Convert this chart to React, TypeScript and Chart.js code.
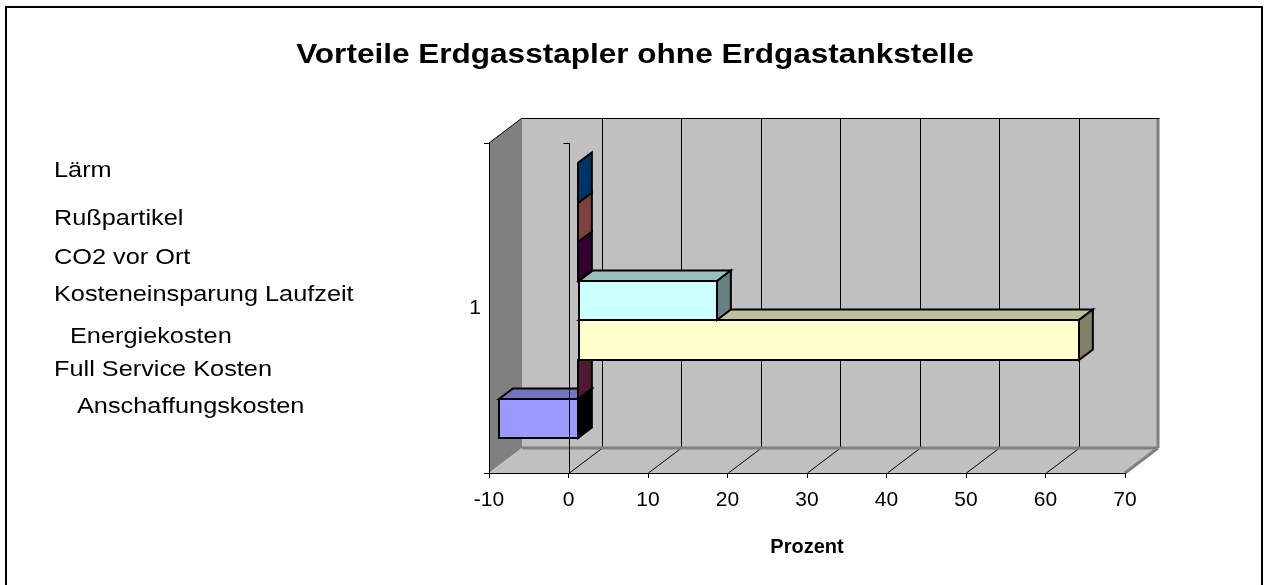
import React, { useEffect, useRef } from "react";
import { Chart, registerables } from "chart.js";

Chart.register(...registerables);

// ---------- data ----------
const categories = ["1"];
const seriesNames = [
  "Lärm",
  "Rußpartikel",
  "CO2 vor Ort",
  "Kosteneinsparung Laufzeit",
  "Energiekosten",
  "Full Service Kosten",
  "Anschaffungskosten",
];
const seriesValues = [0, 0, 0, 17.5, 63, 0, -10];
const seriesColors = ["#0066CC", "#FF8080", "#660066", "#CCFFFF", "#FFFFCC", "#993366", "#9999FF"];
const xTicks = [-10, 0, 10, 20, 30, 40, 50, 60, 70];
const chartTitle = "Vorteile Erdgasstapler ohne Erdgastankstelle";
const xAxisTitle = "Prozent";

// ---------- layout constants ----------
const DX = 33;
const DY = 25;
const BAR_FRONT = 0.29;
const BAR_BACK = 0.71;
const FONT = "'Liberation Sans', Arial, Helvetica, sans-serif";
const legendLeft = [53.5, 53.5, 53.5, 53.5, 70, 53.5, 76.5];
const legendBaseline = [178, 226, 264.5, 301.5, 344, 377, 414];

function shade(hex: string, f: number) {
  const n = parseInt(hex.slice(1), 16);
  const r = Math.round(((n >> 16) & 255) * f);
  const g = Math.round(((n >> 8) & 255) * f);
  const b = Math.round((n & 255) * f);
  return `rgb(${r},${g},${b})`;
}

function poly(ctx: CanvasRenderingContext2D, pts: number[][], fill: string | null, stroke: string | null, lw = 1) {
  ctx.beginPath();
  ctx.moveTo(pts[0][0], pts[0][1]);
  for (let i = 1; i < pts.length; i++) ctx.lineTo(pts[i][0], pts[i][1]);
  ctx.closePath();
  if (fill) {
    ctx.fillStyle = fill;
    ctx.fill();
  }
  if (stroke) {
    ctx.strokeStyle = stroke;
    ctx.lineWidth = lw;
    ctx.stroke();
  }
}

function line(ctx: CanvasRenderingContext2D, x1: number, y1: number, x2: number, y2: number, color: string, lw = 1) {
  ctx.beginPath();
  ctx.moveTo(x1, y1);
  ctx.lineTo(x2, y2);
  ctx.strokeStyle = color;
  ctx.lineWidth = lw;
  ctx.stroke();
}

const box3dPlugin = {
  id: "box3d",
  beforeDraw(chart: any) {
    const { ctx, chartArea } = chart;
    const { left, right, top, bottom } = chartArea;
    const xs = chart.scales.x;
    ctx.save();
    // left wall
    poly(ctx, [[left, top], [left + DX, top - DY], [left + DX, bottom - DY], [left, bottom]], "#808080", null);
    // back wall
    poly(ctx, [[left + DX, top - DY], [right + DX, top - DY], [right + DX, bottom - DY], [left + DX, bottom - DY]], "#C0C0C0", null);
    // floor
    poly(ctx, [[left, bottom], [right, bottom], [right + DX, bottom - DY], [left + DX, bottom - DY]], "#C0C0C0", null);
    // grid lines
    for (const v of xTicks) {
      if (v <= xTicks[0] || v >= xTicks[xTicks.length - 1]) continue;
      const px = Math.round(xs.getPixelForValue(v)) + 0.5;
      line(ctx, px + DX, top - DY, px + DX, bottom - DY, "#000", 1);
      line(ctx, px, bottom, px + DX, bottom - DY, "#000", 1);
    }
    // edges
    line(ctx, left + DX, bottom - DY, right + DX, bottom - DY, "#808080", 3);
    line(ctx, right + DX, top - DY, right + DX, bottom - DY, "#808080", 3);
    line(ctx, right, bottom, right + DX, bottom - DY, "#808080", 3);
    line(ctx, left + DX, top - DY + 0.5, right + DX + 1.5, top - DY + 0.5, "#000", 1);
    line(ctx, left, top, left + DX, top - DY, "#000", 1);
    ctx.restore();
  },
  beforeDatasetsDraw(chart: any) {
    const { ctx } = chart;
    const ox = DX * BAR_FRONT;
    const oy = -DY * BAR_FRONT;
    const bdx = DX * (BAR_BACK - BAR_FRONT);
    const bdy = DY * (BAR_BACK - BAR_FRONT);
    ctx.save();
    ctx.lineJoin = "miter";
    for (let i = chart.data.datasets.length - 1; i >= 0; i--) {
      const meta = chart.getDatasetMeta(i);
      const color = seriesColors[i];
      meta.data.forEach((el: any) => {
        const { x, y, base, height } = el.getProps(["x", "y", "base", "height"], true);
        const yt = Math.round(y - height / 2 + oy);
        const yb = Math.round(y + height / 2 + oy);
        const x0 = Math.round(base + ox);
        const x1 = Math.round(x + ox);
        const lo = Math.min(x0, x1);
        const hi = Math.max(x0, x1);
        const neg = x1 < x0;
        // front
        if (hi - lo > 0.01) poly(ctx, [[lo, yt], [hi, yt], [hi, yb], [lo, yb]], color, "#000", 2);
        // top
        poly(ctx, [[lo, yt], [hi, yt], [hi + bdx, yt - bdy], [lo + bdx, yt - bdy]], shade(color, 0.75), "#000", 2);
        // right end face
        poly(ctx, [[hi, yt], [hi + bdx, yt - bdy], [hi + bdx, yb - bdy], [hi, yb]], neg ? "#000000" : shade(color, 0.5), "#000", 2);
      });
    }
    ctx.restore();
    return false;
  },
  afterDraw(chart: any) {
    const { ctx, chartArea } = chart;
    const xs = chart.scales.x;
    const px = Math.round(xs.getPixelForValue(0)) + 0.5;
    ctx.save();
    line(ctx, px, chartArea.top, px, chartArea.bottom, "#000", 1);
    line(ctx, px - 6, chartArea.top + 0.5, px, chartArea.top + 0.5, "#000", 1);
    ctx.restore();
  },
};

export default function App() {
  const canvasRef = useRef<HTMLCanvasElement | null>(null);

  useEffect(() => {
    if (!canvasRef.current) return;
    const chart = new Chart(canvasRef.current, {
      type: "bar",
      data: {
        labels: categories,
        datasets: seriesNames.map((name, i) => ({
          label: name,
          data: [seriesValues[i]],
          backgroundColor: seriesColors[i],
          borderColor: "#000",
          borderWidth: 2,
          categoryPercentage: 0.833,
          barPercentage: 1,
        })),
      },
      options: {
        indexAxis: "y",
        responsive: false,
        animation: false,
        devicePixelRatio: 1,
        layout: { padding: { left: 0, top: 143, right: 140, bottom: 0 } },
        plugins: {
          legend: { display: false },
          title: { display: false },
          tooltip: { enabled: false },
        },
        scales: {
          x: {
            type: "linear",
            min: xTicks[0],
            max: xTicks[xTicks.length - 1],
            ticks: { stepSize: xTicks[1] - xTicks[0], color: "#000", font: { family: FONT, size: 21 }, padding: 10 },
            grid: { drawOnChartArea: false, drawTicks: true, tickLength: 5, color: "#000" },
            border: { display: true, color: "#000", width: 1 },
            title: {
              display: true,
              text: xAxisTitle,
              color: "#000",
              font: { family: FONT, size: 20, weight: "bold" },
              padding: { top: 0, bottom: 26 },
            },
            afterFit: (s: any) => {
              s.height = 112;
            },
          },
          y: {
            type: "category",
            ticks: { color: "#000", font: { family: FONT, size: 21 }, padding: 3 },
            grid: { drawOnChartArea: false, drawTicks: true, tickLength: 5, color: "#000", offset: true },
            border: { display: true, color: "#000", width: 1 },
            afterFit: (s: any) => {
              s.width = 489;
            },
          },
        },
      } as any,
      plugins: [box3dPlugin as any],
    });
    return () => chart.destroy();
  }, []);

  return (
    <div style={{ position: "fixed", left: 0, top: 0, width: 1265, height: 585, overflow: "hidden", background: "#fff" }}>
      <div
        style={{
          position: "absolute",
          left: 5,
          top: 6,
          width: 1258,
          height: 700,
          border: "2px solid #000",
          boxSizing: "border-box",
        }}
      />
      <canvas ref={canvasRef} width={1265} height={585} style={{ position: "absolute", left: 0, top: 0, width: 1265, height: 585 }} />
      <div
        style={{
          position: "absolute",
          left: 0,
          width: 1270,
          top: 64.3 - 0.8465 * 27,
          textAlign: "center",
          font: `bold 27px ${FONT}`,
          lineHeight: "27px",
          whiteSpace: "nowrap",
          transform: "scaleX(1.168)",
          transformOrigin: "635px 0",
          color: "#000",
        }}
      >
        {chartTitle}
      </div>
      {seriesNames.map((name, i) => (
        <div
          key={name}
          style={{
            position: "absolute",
            left: legendLeft[i],
            top: legendBaseline[i] - 0.8465 * 22,
            font: `22px ${FONT}`,
            lineHeight: "22px",
            whiteSpace: "nowrap",
            transform: "scaleX(1.15)",
            transformOrigin: "0 0",
            color: "#000",
          }}
        >
          {name}
        </div>
      ))}
    </div>
  );
}
